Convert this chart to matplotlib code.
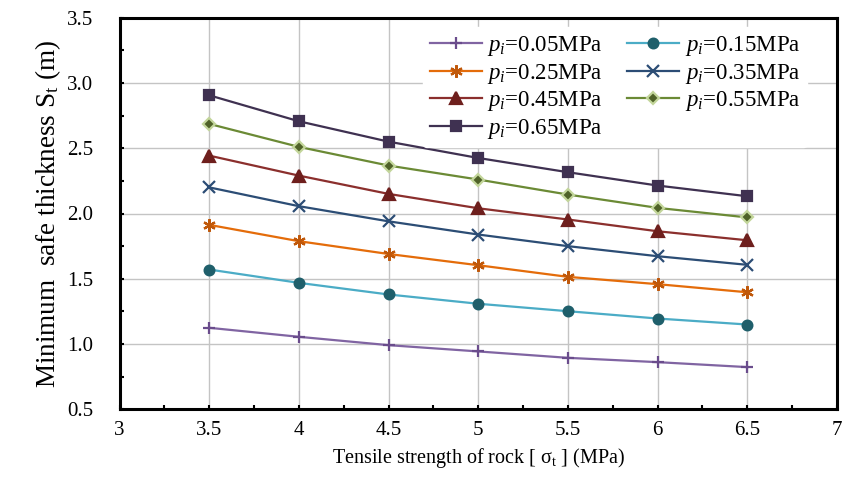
import matplotlib
matplotlib.use("Agg")
import matplotlib.pyplot as plt
from matplotlib.ticker import MultipleLocator

plt.rcParams['font.family'] = ['Liberation Serif', 'DejaVu Serif']
plt.rcParams['mathtext.fontset'] = 'custom'
plt.rcParams['mathtext.rm'] = 'Liberation Serif'
plt.rcParams['mathtext.it'] = 'Liberation Serif:italic'

# tensile strength (MPa)
strength = [3.5, 4.0, 4.5, 5.0, 5.5, 6.0, 6.5]

# minimum safe thickness (m) for each support pressure
st_005 = [1.125, 1.056, 0.992, 0.944, 0.895, 0.862, 0.824]
st_015 = [1.571, 1.469, 1.380, 1.309, 1.252, 1.196, 1.150]
st_025 = [1.913, 1.788, 1.690, 1.604, 1.515, 1.459, 1.397]
st_035 = [2.200, 2.056, 1.940, 1.839, 1.750, 1.673, 1.607]
st_045 = [2.443, 2.290, 2.150, 2.040, 1.954, 1.864, 1.795]
st_055 = [2.686, 2.510, 2.367, 2.260, 2.145, 2.043, 1.970]
st_065 = [2.905, 2.706, 2.550, 2.425, 2.316, 2.214, 2.132]

labels = ['0.05', '0.15', '0.25', '0.35', '0.45', '0.55', '0.65']
xticks = [3, 3.5, 4, 4.5, 5, 5.5, 6, 6.5, 7]
xtick_labels = ['3', '3.5', '4', '4.5', '5', '5.5', '6', '6.5', '7']
yticks = [0.5, 1.0, 1.5, 2.0, 2.5, 3.0, 3.5]
ytick_labels = ['0.5', '1.0', '1.5', '2.0', '2.5', '3.0', '3.5']

fig = plt.figure(figsize=(8.51, 4.88), dpi=100)
ax = fig.add_axes([0.1405, 0.161, 0.843, 0.803])

# (data, line colour, marker, marker face, marker edge, size)
styles = [
    (st_005, '#8064a2', '+', '#6a4c8c', '#6a4c8c', 9),
    (st_015, '#4bacc6', 'o', '#1f5f6b', '#1f5f6b', 7),
    (st_025, '#e46c0a', (6, 2, 0), '#c0580a', '#c0580a', 9),
    (st_035, '#2c4d75', 'x', '#2c4d75', '#2c4d75', 8),
    (st_045, '#8b2f2d', '^', '#6e1f1d', '#6e1f1d', 8),
    (st_055, '#6b8a35', 'D', '#4f6228', '#c3d69b', 6),
    (st_065, '#3f3151', 's', '#3f3151', '#3f3151', 7.5),
]

handles = []
for (vals, col, mk, mfc, mec, ms), lab in zip(styles, labels):
    h, = ax.plot(strength, vals, color=col, lw=1.6, marker=mk, markersize=ms,
                 markerfacecolor=mfc, markeredgecolor=mec, markeredgewidth=1.6,
                 label=r'$p_i$=' + lab + 'MPa', zorder=3)
    handles.append(h)

ax.set_xlim(3, 7)
ax.set_ylim(0.5, 3.5)
ax.set_xticks(xticks)
ax.set_xticklabels(xtick_labels)
ax.set_yticks(yticks)
ax.set_yticklabels(ytick_labels)
ax.xaxis.set_minor_locator(MultipleLocator(0.25))
ax.yaxis.set_minor_locator(MultipleLocator(0.25))
ax.tick_params(which='both', direction='in', length=3, width=1.5, labelsize=15,
               top=False, right=False)
ax.tick_params(axis='x', pad=8)
ax.tick_params(axis='y', pad=19)
ax.grid(True, which='major', color='#c4c4c4', lw=1.0, zorder=0)
for sp in ax.spines.values():
    sp.set_linewidth(2.2)
    sp.set_color('black')

ax.set_xlabel(r'Tensile strength of rock [ σ$_\mathrm{t}$ ] (MPa)', fontsize=14.5, labelpad=5)
ax.set_ylabel(r'Minimum  safe thickness S$_\mathrm{t}$ (m)', fontsize=19.5, labelpad=3)

order = [0, 2, 4, 6, 1, 3, 5]
leg = ax.legend([handles[i] for i in order], [handles[i].get_label() for i in order],
                ncol=2, loc='upper left', bbox_to_anchor=(0.4226, 0.975),
                frameon=True, fontsize=16.5, handlelength=2.27, handletextpad=0.25,
                columnspacing=1.05, labelspacing=0.15, borderpad=0.3,
                borderaxespad=0.0)
leg.get_frame().set_edgecolor('white')
leg.get_frame().set_facecolor('white')
leg.get_frame().set_alpha(1.0)

fig.savefig('out.png', dpi=100)
